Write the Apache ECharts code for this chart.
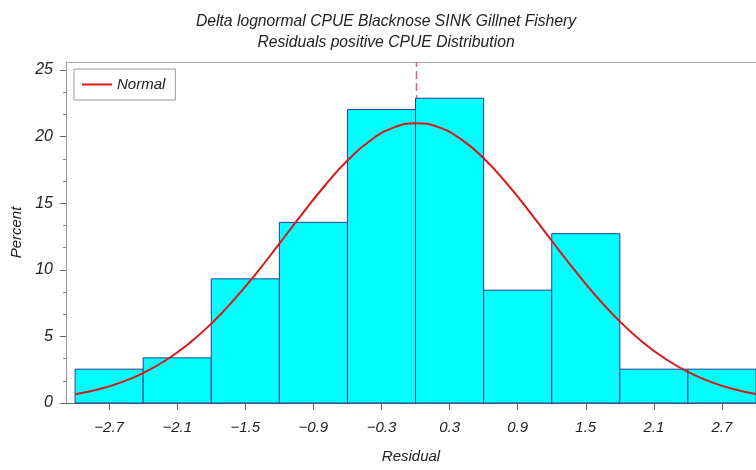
<!DOCTYPE html>
<html>
<head>
<meta charset="utf-8">
<script src="https://cdn.jsdelivr.net/npm/echarts@6/dist/echarts.min.js"></script>
<style>html,body{margin:0;padding:0;background:#fff}#c{width:756px;height:470px}</style>
</head>
<body>
<div id="c"></div>
<script>
// Histogram bins (centers) and percent heights
const binCenters = [-2.7, -2.1, -1.5, -0.9, -0.3, 0.3, 0.9, 1.5, 2.1, 2.7];
const percents = [2.54, 3.39, 9.32, 13.56, 22.03, 22.88, 8.47, 12.71, 2.54, 2.54];
const binWidth = 0.6;
// Fitted normal curve
const normalX = [-3.0,-2.8,-2.6,-2.4,-2.2,-2.0,-1.8,-1.6,-1.4,-1.2,-1.0,-0.8,-0.6,-0.4,-0.2,0.0,0.2,0.4,0.6,0.8,1.0,1.2,1.4,1.6,1.8,2.0,2.2,2.4,2.6,2.8,3.0];
const normalY = [0.66,1.01,1.53,2.25,3.21,4.44,5.95,7.75,9.77,11.96,14.18,16.31,18.20,19.69,20.65,21.00,20.71,19.81,18.37,16.52,14.40,12.18,9.99,7.94,6.12,4.58,3.32,2.33,1.59,1.05,0.67];
const refLineX = [0];
const xTickLabels = [-2.7, -2.1, -1.5, -0.9, -0.3, 0.3, 0.9, 1.5, 2.1, 2.7];
const yTickLabels = [0, 5, 10, 15, 20, 25];
const yMinorTicks = [1.67, 3.33, 6.67, 8.33, 11.67, 13.33, 16.67, 18.33, 21.67, 23.33];

const FONT = '"Liberation Sans", Arial, sans-serif';
const X_MIN = -3.08, X_MAX = 3.0, Y_MAX = 25.6;
const chart = echarts.init(document.getElementById('c'), null, {renderer: 'canvas'});
const fmt = v => (v < 0 ? '\u2212' + Math.abs(v).toFixed(1) : v.toFixed(1));
const txt = (size) => ({fontFamily: FONT, fontSize: size, fontStyle: 'italic', color: '#222'});

chart.setOption({
  animation: false,
  backgroundColor: '#ffffff',
  title: {
    text: 'Delta lognormal CPUE Blacknose SINK Gillnet Fishery\nResiduals positive CPUE Distribution',
    left: 381, top: 6, textAlign: 'center',
    textStyle: Object.assign(txt(15.7), {fontWeight: 'normal', lineHeight: 21})
  },
  legend: {
    data: ['Normal'],
    left: 74, top: 69,
    icon: 'rect',
    itemWidth: 30, itemHeight: 2, itemGap: 6,
    borderColor: '#999', borderWidth: 1, borderRadius: 0,
    padding: [8, 10, 8, 8],
    backgroundColor: '#fff',
    textStyle: txt(15)
  },
  grid: {left: 66, top: 62, right: 0, bottom: 67, show: false, containLabel: false},
  xAxis: [{
    type: 'value', min: X_MIN, max: X_MAX,
    name: 'Residual', nameLocation: 'middle', nameGap: 46,
    nameTextStyle: txt(15),
    axisLine: {show: true, onZero: false, lineStyle: {color: '#666', width: 1}},
    axisTick: {show: true, customValues: xTickLabels, length: 7, lineStyle: {color: '#666'}},
    axisLabel: Object.assign({customValues: xTickLabels, formatter: fmt, margin: 17}, txt(15)),
    splitLine: {show: false}
  }, {
    type: 'value', min: X_MIN, max: X_MAX, position: 'top',
    axisLine: {show: true, onZero: false, lineStyle: {color: '#aaa', width: 1}},
    axisTick: {show: false}, axisLabel: {show: false}, splitLine: {show: false}
  }],
  yAxis: [{
    type: 'value', min: 0, max: Y_MAX, position: 'left',
    name: 'Percent', nameLocation: 'middle', nameGap: 32, nameRotate: 90,
    nameTextStyle: txt(15),
    axisLine: {show: true, onZero: false, lineStyle: {color: '#999', width: 1}},
    axisTick: {show: true, customValues: yTickLabels, length: 6, lineStyle: {color: '#666'}},
    axisLabel: Object.assign({customValues: yTickLabels, margin: 13}, txt(16)),
    splitLine: {show: false}
  }, {
    type: 'value', min: 0, max: Y_MAX, position: 'left', offset: 0,
    axisLine: {show: false, onZero: false},
    axisTick: {show: true, customValues: yMinorTicks, length: 3, lineStyle: {color: '#888'}},
    axisLabel: {show: false},
    splitLine: {show: false}
  }],
  series: [
    {
      name: 'ref', type: 'custom', z: 1, silent: true,
      data: refLineX.map(x => [x]),
      encode: {x: 0},
      renderItem: function (params, api) {
        const x = api.value(0);
        const a = api.coord([x, 0]);
        const b = api.coord([x, Y_MAX]);
        return {
          type: 'line',
          shape: {x1: Math.round(a[0]) + 0.5, y1: a[1], x2: Math.round(a[0]) + 0.5, y2: b[1]},
          style: {stroke: '#e06078', lineWidth: 1.5, lineDash: [8, 4]}
        };
      }
    },
    {
      name: 'Percent', type: 'custom', z: 2,
      data: binCenters.map((c, i) => [c, percents[i]]),
      encode: {x: 0, y: 1},
      renderItem: function (params, api) {
        const c = api.value(0), v = api.value(1);
        const p0 = api.coord([c - binWidth / 2, v]);
        const p1 = api.coord([c + binWidth / 2, 0]);
        return {
          type: 'rect',
          shape: {x: p0[0], y: p0[1], width: p1[0] - p0[0], height: p1[1] - p0[1]},
          style: {fill: '#00ffff', stroke: '#2a3a96', lineWidth: 1}
        };
      }
    },
    {
      name: 'Normal', type: 'line', z: 3, smooth: true, symbol: 'none',
      data: normalX.map((x, i) => [x, normalY[i]]),
      lineStyle: {color: '#d81818', width: 2},
      itemStyle: {color: '#d81818'}
    }
  ]
});
</script>
</body>
</html>
